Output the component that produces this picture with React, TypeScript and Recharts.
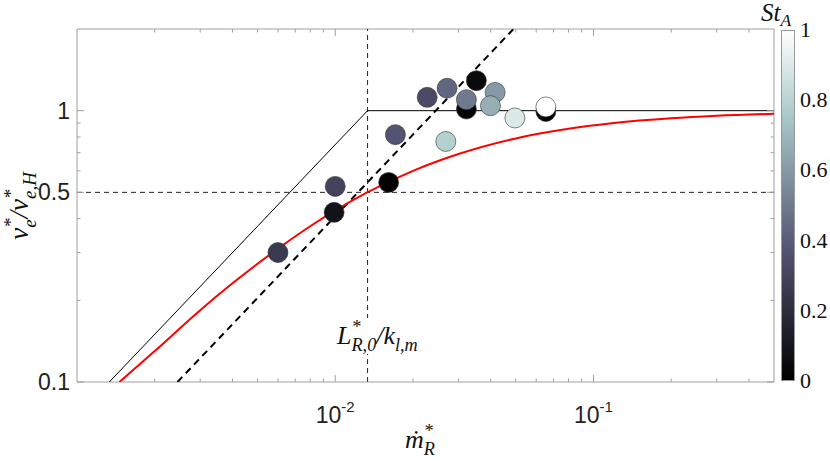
import { ScatterChart, Scatter, XAxis, YAxis, ReferenceLine } from 'recharts';

// measured points: dimensionless mass flux vs velocity ratio, coloured by St_A
const mdotR = [0.006, 0.0099, 0.01, 0.0161, 0.0171, 0.0268, 0.0227, 0.0271, 0.0322, 0.0322, 0.0352, 0.0416, 0.0399, 0.0496, 0.0654, 0.0654];
const veRatio = [0.3, 0.422, 0.526, 0.544, 0.816, 0.77, 1.12, 1.21, 1.014, 1.098, 1.29, 1.168, 1.043, 0.94, 0.994, 1.032];
const stA = [0.26, 0.08, 0.3, 0.01, 0.37, 0.79, 0.33, 0.43, 0.02, 0.5, 0.04, 0.6, 0.67, 0.9, 0.0, 1.0];

// limiting lines and model curve
const limitX = [0.001334, 0.01334, 0.5];
const limitY = [0.1, 1, 1];
const slopeX = [0.00245, 0.049];
const slopeY = [0.1, 2];
const modelX = [0.00146, 0.002, 0.003, 0.004, 0.006, 0.008, 0.01, 0.0133, 0.02, 0.03, 0.05, 0.08, 0.12, 0.2, 0.3, 0.5];
const modelY = [0.1, 0.13, 0.184, 0.231, 0.31, 0.375, 0.429, 0.5, 0.6, 0.692, 0.79, 0.857, 0.9, 0.937, 0.957, 0.974];

const xTicks = [0.002, 0.003, 0.004, 0.005, 0.006, 0.007, 0.008, 0.009, 0.01, 0.02, 0.03, 0.04, 0.05, 0.06, 0.07, 0.08, 0.09, 0.1, 0.2, 0.3, 0.4];
const xMajor = [0.01, 0.1];
const yTicks = [0.1, 0.2, 0.3, 0.4, 0.5, 0.6, 0.7, 0.8, 0.9, 1];
const yMajor = [0.1, 0.5, 1];
const yLabels = ['0.1', '0.5', '1'];
const cbTicks = [0, 0.2, 0.4, 0.6, 0.8, 1];
const cbLabels = ['0', '0.2', '0.4', '0.6', '0.8', '1'];

const xCrit = 0.01334;

const PLOT_LEFT = 77;
const PLOT_RIGHT = 774;
const PLOT_TOP = 29;
const PLOT_BOTTOM = 382;
const FRAME = '#a0a0a0';
const SANS = 'Liberation Sans';
const SERIF = 'Liberation Serif';

const points = mdotR.map((x, i) => ({ x, y: veRatio[i], st: stA[i] }));
const limitData = limitX.map((x, i) => ({ x, y: limitY[i] }));
const slopeData = slopeX.map((x, i) => ({ x, y: slopeY[i] }));
const modelData = modelX.map((x, i) => ({ x, y: modelY[i] }));

// matlab "bone" colormap
function bone(t: number) {
  const c = (v: number) => Math.max(0, Math.min(1, v));
  const hr = c(t / 0.375);
  const hg = c((t - 0.375) / 0.375);
  const hb = c((t - 0.75) / 0.25);
  const r = (7 * t + hb) / 8;
  const g = (7 * t + hg) / 8;
  const b = (7 * t + hr) / 8;
  const h = (v: number) => Math.round(v * 255).toString(16).padStart(2, '0');
  return `#${h(r)}${h(g)}${h(b)}`;
}

const near = (a: number, list: number[]) => list.some((m) => Math.abs(a - m) < m * 1e-6);

function XTick(props: any) {
  const { x, payload } = props;
  const v = payload.value;
  const major = near(v, xMajor);
  const len = major ? 7 : 3.5;
  return (
    <g>
      <line x1={x} x2={x} y1={PLOT_BOTTOM} y2={PLOT_BOTTOM - len} stroke={FRAME} />
      <line x1={x} x2={x} y1={PLOT_TOP} y2={PLOT_TOP + len} stroke={FRAME} />
      {major && (
        <text x={x} y={423} textAnchor="middle" fontFamily={SANS} fontSize={23} fill="#222">
          10
          <tspan dy={-11} fontSize={15}>{Math.round(Math.log10(v))}</tspan>
        </text>
      )}
    </g>
  );
}

function YTick(props: any) {
  const { y, payload } = props;
  const v = payload.value;
  const idx = yMajor.findIndex((m) => Math.abs(v - m) < m * 1e-6);
  const len = idx >= 0 ? 7 : 3.5;
  return (
    <g>
      <line x1={PLOT_LEFT} x2={PLOT_LEFT + len} y1={y} y2={y} stroke={FRAME} />
      <line x1={PLOT_RIGHT} x2={PLOT_RIGHT - len} y1={y} y2={y} stroke={FRAME} />
      {idx >= 0 && (
        <text x={70} y={y + 8} textAnchor="end" fontFamily={SANS} fontSize={23} fill="#222">
          {yLabels[idx]}
        </text>
      )}
    </g>
  );
}

const Dot = (props: any) => {
  const { cx, cy, payload } = props;
  return <circle cx={cx} cy={cy} r={10} fill={bone(payload.st)} stroke="#333" strokeWidth={0.6} />;
};

const Empty = () => <g />;

const sub: React.CSSProperties = {
  display: 'inline-block',
  fontSize: '0.7em',
  lineHeight: 1,
  verticalAlign: '-0.42em',
};

function SupSub({ sup, low }: { sup?: string; low?: string }) {
  return (
    <span style={sub}>
      <span style={{ display: 'block' }}>{sup ?? '\u00a0'}</span>
      <span style={{ display: 'block' }}>{low ?? '\u00a0'}</span>
    </span>
  );
}

const math: React.CSSProperties = {
  position: 'absolute',
  fontFamily: SERIF,
  fontStyle: 'italic',
  whiteSpace: 'nowrap',
  color: '#111',
};

export default function App() {
  return (
    <div style={{ position: 'absolute', left: 0, top: 0, width: 830, height: 462, background: '#fff' }}>
      <ScatterChart width={830} height={462} margin={{ top: PLOT_TOP, right: 830 - PLOT_RIGHT, bottom: 0, left: 0 }}>
        <XAxis
          dataKey="x"
          type="number"
          scale="log"
          domain={[0.001, 0.5]}
          allowDataOverflow
          ticks={xTicks}
          interval={0}
          height={462 - PLOT_BOTTOM}
          tickLine={false}
          axisLine={{ stroke: FRAME }}
          tick={XTick}
        />
        <YAxis
          dataKey="y"
          type="number"
          scale="log"
          domain={[0.1, 2]}
          allowDataOverflow
          ticks={yTicks}
          interval={0}
          width={PLOT_LEFT}
          tickLine={false}
          axisLine={{ stroke: FRAME }}
          tick={YTick}
        />
        <ReferenceLine y={2} stroke={FRAME} />
        <ReferenceLine x={0.5} stroke={FRAME} />
        <ReferenceLine x={xCrit} stroke="#222" strokeDasharray="5 4" />
        <ReferenceLine y={0.5} stroke="#222" strokeDasharray="5 4" />
        <Scatter data={limitData} shape={Empty} line={{ stroke: '#000', strokeWidth: 1 }} fill="none" stroke="#000" isAnimationActive={false} />
        <Scatter data={slopeData} shape={Empty} line={{ stroke: '#000', strokeWidth: 2, strokeDasharray: '7 5' }} fill="none" stroke="#000" isAnimationActive={false} />
        <Scatter data={modelData} shape={Empty} line={{ stroke: '#ff0000', strokeWidth: 2 }} lineJointType="monotoneX" fill="none" stroke="#ff0000" isAnimationActive={false} />
        <Scatter data={points} shape={Dot} isAnimationActive={false} />
      </ScatterChart>

      {/* critical flux label */}
      <div style={{ ...math, left: 334, top: 318, padding: '0 3px', background: '#fff', fontSize: 26, lineHeight: '32px' }}>
        L<SupSub sup="*" low="R,0" />/k<SupSub low="l,m" />
      </div>

      {/* x label */}
      <div style={{ ...math, left: 405, top: 422, fontSize: 26, lineHeight: '28px' }}>
        ṁ<SupSub sup="*" low="R" />
      </div>

      {/* y label */}
      <div
        style={{
          ...math,
          left: 21,
          top: 206,
          transform: 'translate(-50%, -50%) rotate(-90deg)',
          fontSize: 27,
          lineHeight: '22px',
        }}
      >
        v<SupSub sup="*" low="e" />/v<SupSub sup="*" low="e,H" />
      </div>

      {/* colorbar */}
      <div
        style={{
          position: 'absolute',
          left: 781,
          top: 30,
          width: 14,
          height: 351,
          boxSizing: 'border-box',
          border: '1px solid #999',
          background: `linear-gradient(to top, ${bone(0)} 0%, ${bone(0.375)} 37.5%, ${bone(0.75)} 75%, ${bone(1)} 100%)`,
        }}
      />
      {cbTicks.map((t, i) => (
        <div
          key={t}
          style={{
            position: 'absolute',
            left: 800,
            top: 30 + (1 - t) * 351 - 13,
            fontFamily: SERIF,
            fontSize: 22,
            lineHeight: '26px',
            color: '#111',
          }}
        >
          {cbLabels[i]}
        </div>
      ))}
      <div style={{ ...math, left: 761, top: 1, fontSize: 25, lineHeight: '24px' }}>
        St<span style={{ fontSize: '0.7em', verticalAlign: '-0.3em' }}>A</span>
      </div>
    </div>
  );
}
